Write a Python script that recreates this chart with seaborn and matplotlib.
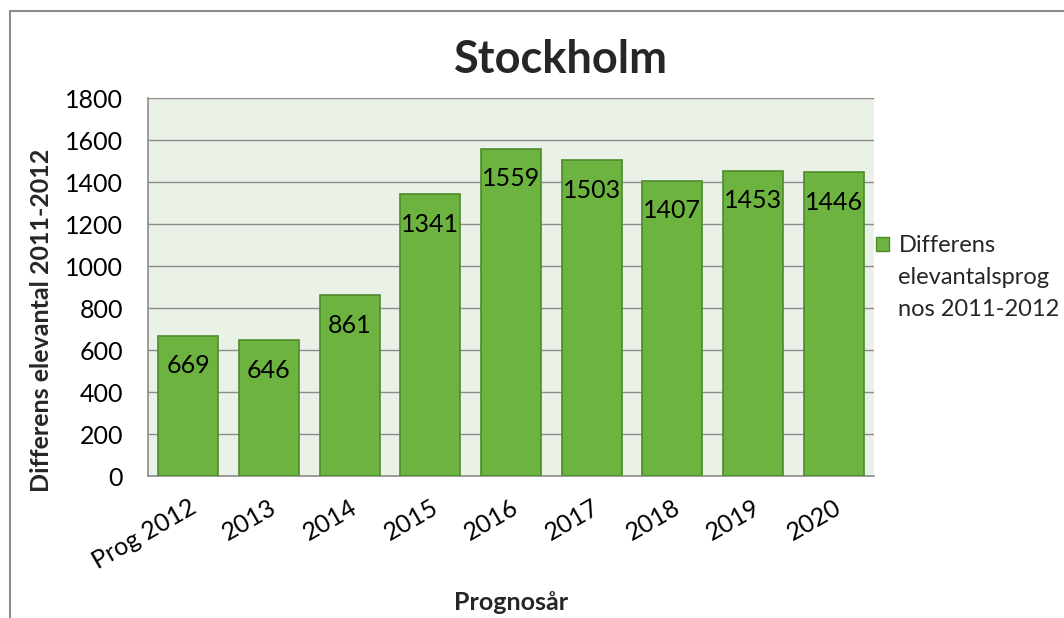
import matplotlib
matplotlib.use("Agg")
import matplotlib.pyplot as plt
import seaborn as sns
import pandas as pd
from matplotlib.patches import Patch, Rectangle

categories = ["Prog 2012", "2013", "2014", "2015", "2016", "2017", "2018", "2019", "2020"]
values = [669, 646, 861, 1341, 1559, 1503, 1407, 1453, 1446]
series_lines = ["Differens", "elevantalsprog", "nos 2011-2012"]
title = "Stockholm"
xlabel = "Prognosår"
ylabel = "Differens elevantal 2011-2012"
yticks = [0, 200, 400, 600, 800, 1000, 1200, 1400, 1600, 1800]

sns.set_theme(style="white")
plt.rcParams['font.family'] = ['Lato', 'DejaVu Sans']

BAR = "#6CB33F"
EDGE = "#4F8A2C"
GRID = "#8C8C8C"
FS = 18

df = pd.DataFrame({"cat": categories, "val": values})

fig = plt.figure(figsize=(10.64, 6.18), dpi=100)
ax = fig.add_axes([148/1064, 1-476/618, (874-148)/1064, (476-98)/618])
ax.set_facecolor("#EAF1E6")

sns.barplot(data=df, x="cat", y="val", ax=ax, color=BAR, width=0.74,
            edgecolor=EDGE, linewidth=1.2, saturation=1, zorder=3)

ax.set_ylim(0, 1800)
ax.set_yticks(yticks)
ax.set_xlim(-0.5, len(categories) - 0.5)
ax.yaxis.grid(True, color=GRID, linewidth=1.0, zorder=0)
ax.set_axisbelow(True)
for s in ["top", "right"]:
    ax.spines[s].set_visible(False)
for s in ["left", "bottom"]:
    ax.spines[s].set_color(GRID)
    ax.spines[s].set_linewidth(1.2)
ax.tick_params(axis="y", labelsize=FS, length=0, pad=18, colors="black")
ax.tick_params(axis="x", labelsize=FS, length=0, pad=14, colors="black")
plt.setp(ax.get_xticklabels(), rotation=30, ha="right", rotation_mode="anchor")

for c in ax.containers:
    texts = ax.bar_label(c, labels=[str(v) for v in values], padding=-21.5, fontsize=FS, color="black")
    for t in texts:
        t.set_va("center")

ax.set_xlabel(xlabel, fontsize=FS, fontweight="bold")
ax.xaxis.label.set_va("center")
ax.xaxis.set_label_coords((511-148)/(874-148), -(603-476)/(476-98))
ax.set_ylabel(ylabel, fontsize=FS, fontweight="bold")
ax.yaxis.label.set_va("center")
ax.yaxis.set_label_coords((42-148)/(874-148), (476-320)/(476-98))
fig.text(561/1064, 1-60/618, title, ha="center", va="center", fontsize=32.5, fontweight="bold")

handles = [Patch(facecolor=BAR, edgecolor=EDGE, label=series_lines[0])] + \
          [Patch(facecolor="none", edgecolor="none", label=l) for l in series_lines[1:]]
leg = fig.legend(handles=handles, loc="upper left", bbox_to_anchor=(876/1064, 1-235/618),
                 frameon=False, fontsize=17, handlelength=0.55, handleheight=0.55,
                 handletextpad=0.4, labelspacing=0.47, borderaxespad=0, borderpad=0)

fig.patches.append(Rectangle((10/1064, -0.1), 1.2, 1-11/618+0.1, transform=fig.transFigure,
                             fill=False, edgecolor=GRID, linewidth=1.5))

fig.savefig("out.png", dpi=100)
